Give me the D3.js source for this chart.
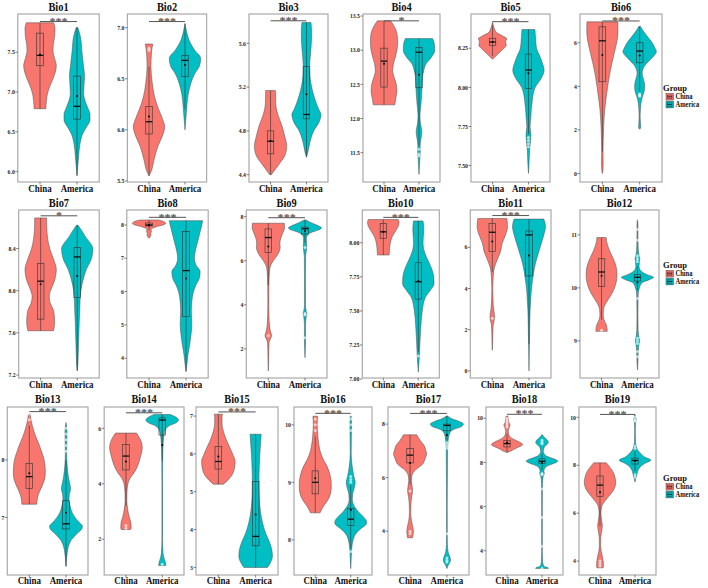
<!DOCTYPE html>
<html><head><meta charset="utf-8">
<script src="https://cdn.jsdelivr.net/npm/d3@7"></script>
<style>body{margin:0;background:#fff}</style>
</head><body><svg id="c" width="708" height="588"></svg>
<script>
const groups = ["China","America"];
const groupColors = ["#F8766D","#00BFC4"];
const panelNames = ["Bio1","Bio2","Bio3","Bio4","Bio5","Bio6","Bio7","Bio8","Bio9","Bio10","Bio11","Bio12","Bio13","Bio14","Bio15","Bio16","Bio17","Bio18","Bio19"];

// y-axis extents and tick labels per panel
const yDomains = [[5.87,7.98],[5.49,7.134],[4.333,5.868],[11.07,13.53],[7.395,8.469],[-0.39,7.32],
 [7.172,8.765],[3.405,8.45],[0.68,8.3],[7.008,8.24],[-0.345,7.81],[8.3,11.47],
 [6.0,8.92],[0.71,6.77],[2.8,7.24],[7.39,10.31],[2.36,8.64],[2.9,10.51],[3.42,10.43]];
const tickLabels = [["6.0","6.5","7.0","7.5"],["5.5","6.0","6.5","7.0"],["4.4","4.8","5.2","5.6"],["11.5","12.0","12.5","13.0","13.5"],["7.50","7.75","8.00","8.25"],["0","2","4","6"],
 ["7.2","7.6","8.0","8.4"],["4","5","6","7","8"],["2","4","6","8"],["7.00","7.25","7.50","7.75","8.00"],["0","2","4","6"],["9","10","11"],
 ["7","8"],["2","4","6"],["3","4","5","6","7"],["8","9","10"],["4","6","8"],["4","6","8","10"],["4","6","8","10"]];
// significance bracket: [height, label]
const significance = [[7.885,"***"],[7.06,"***"],[5.806,"***"],[13.43,"*"],[8.42,"***"],[7.0,"***"],
 [8.71,"*"],[8.23,"***"],[7.95,"***"],[8.186,"***"],[7.54,"***"],null,
 [8.84,"***"],[6.56,"***"],[7.11,"***"],[10.2,"***"],[8.4,"***"],[10.18,"***"],[10.12,"***"]];

// violin profiles: [value, relative half width]
const violinChina = [
 [[7.87,0.82],[7.8,0.9],[7.7,0.88],[7.6,0.8],[7.52,0.78],[7.42,0.88],[7.33,0.98],[7.25,0.92],[7.15,0.75],[7.05,0.55],[6.95,0.42],[6.85,0.37],[6.79,0.35]],
 [[6.84,0.23],[6.75,0.15],[6.62,0.12],[6.46,0.2],[6.32,0.35],[6.2,0.6],[6.1,0.85],[6.03,0.97],[5.95,0.85],[5.84,0.55],[5.7,0.3],[5.6,0.15],[5.55,0]],
 [[5.17,0.3],[5.05,0.32],[4.95,0.45],[4.85,0.7],[4.75,0.88],[4.66,1.0],[4.58,0.9],[4.5,0.55],[4.45,0.3],[4.4,0.05]],
 [[13.43,0.42],[13.3,0.75],[13.2,0.85],[13.1,0.86],[13.0,0.82],[12.9,0.72],[12.8,0.6],[12.7,0.55],[12.6,0.65],[12.5,0.78],[12.4,0.82],[12.3,0.75],[12.2,0.68]],
 [[8.42,0],[8.38,0.1],[8.35,0.25],[8.33,0.6],[8.31,0.88],[8.29,0.8],[8.27,0.85],[8.25,0.7],[8.23,0.5],[8.21,0.3],[8.19,0.1],[8.18,0]],
 [[6.96,0.92],[6.5,0.93],[6.0,0.85],[5.5,0.7],[5.0,0.55],[4.5,0.42],[4.0,0.32],[3.5,0.23],[3.0,0.15],[2.5,0.1],[2.0,0.07],[1.5,0.05],[1.0,0.04],[0.5,0.05],[0.1,0.03],[0,0]],
 [[8.69,0.36],[8.6,0.37],[8.5,0.42],[8.4,0.55],[8.3,0.78],[8.2,0.95],[8.1,0.85],[8.0,0.6],[7.95,0.52],[7.9,0.55],[7.8,0.8],[7.7,0.85],[7.62,0.78]],
 [[8.15,0.55],[8.1,0.9],[8.05,1.0],[8.0,0.85],[7.95,0.45],[7.9,0.2],[7.85,0.12],[7.8,0.15],[7.75,0.1],[7.7,0.12],[7.65,0.08],[7.6,0]],
 [[7.7,0.97],[7.5,0.98],[7.3,0.9],[7.0,0.75],[6.8,0.7],[6.6,0.72],[6.4,0.65],[6.2,0.5],[6.0,0.3],[5.8,0.15],[5.5,0.07],[5.0,0.04],[4.5,0.03],[4.0,0.03],[3.5,0.04],[3.0,0.08],[2.75,0.15],[2.6,0.2],[2.45,0.12],[2.3,0.05],[2.0,0.03],[1.5,0.02],[1.0,0]],
 [[8.17,0.95],[8.15,1.0],[8.12,0.95],[8.08,0.75],[8.04,0.55],[8.0,0.45],[7.96,0.4],[7.91,0.37]],
 [[7.4,0.88],[7.0,0.92],[6.6,0.8],[6.2,0.6],[5.8,0.5],[5.4,0.3],[5.0,0.12],[4.6,0.06],[4.0,0.03],[3.5,0.04],[3.0,0.08],[2.8,0.12],[2.6,0.14],[2.4,0.1],[2.2,0.05],[1.8,0.03],[1.4,0.02],[1.0,0]],
 [[10.95,0.29],[10.9,0.3],[10.8,0.38],[10.7,0.5],[10.6,0.65],[10.5,0.8],[10.4,0.9],[10.3,0.95],[10.2,0.95],[10.1,0.9],[10.0,0.8],[9.9,0.65],[9.8,0.45],[9.7,0.25],[9.6,0.12],[9.5,0.1],[9.4,0.15],[9.3,0.3],[9.2,0.35],[9.18,0.35]],
 [[8.8,0.05],[8.7,0.1],[8.6,0.18],[8.5,0.28],[8.4,0.4],[8.3,0.55],[8.2,0.68],[8.1,0.8],[8.0,0.9],[7.9,0.95],[7.8,0.97],[7.7,0.95],[7.6,0.85],[7.5,0.7],[7.4,0.55],[7.3,0.47],[7.23,0.45]],
 [[5.83,0.64],[5.6,0.88],[5.3,1.0],[5.0,0.9],[4.7,0.75],[4.4,0.5],[4.2,0.25],[4.0,0.12],[3.7,0.06],[3.4,0.05],[3.1,0.1],[2.8,0.2],[2.6,0.3],[2.4,0.32],[2.35,0.28]],
 [[7.05,0.25],[7.0,0.22],[6.8,0.22],[6.6,0.3],[6.4,0.45],[6.2,0.65],[6.0,0.85],[5.8,1.0],[5.6,0.95],[5.4,0.75],[5.3,0.55],[5.2,0.3]],
 [[10.15,0.15],[10.0,0.12],[9.85,0.15],[9.7,0.2],[9.55,0.3],[9.4,0.5],[9.3,0.7],[9.2,0.85],[9.1,0.95],[9.0,1.0],[8.9,1.0],[8.8,0.95],[8.7,0.8],[8.6,0.55],[8.5,0.35],[8.47,0.3]],
 [[7.6,0.4],[7.4,0.6],[7.2,0.85],[7.0,0.95],[6.9,1.0],[6.7,0.9],[6.5,0.75],[6.3,0.35],[6.1,0.12],[5.9,0.08],[5.7,0.12],[5.5,0.15],[5.3,0.1],[5.0,0.05],[4.7,0.04],[4.4,0.08],[4.2,0.15],[4.0,0.2],[3.85,0.18],[3.75,0.15]],
 [[10.1,0.05],[10.0,0.08],[9.8,0.12],[9.7,0.2],[9.6,0.15],[9.4,0.08],[9.2,0.15],[9.1,0.3],[9.0,0.55],[8.9,0.85],[8.8,1.0],[8.7,0.75],[8.6,0.45],[8.5,0.2],[8.45,0]],
 [[8.1,0.4],[7.9,0.65],[7.7,0.85],[7.5,0.95],[7.3,1.0],[7.1,0.95],[6.9,0.8],[6.7,0.55],[6.5,0.3],[6.3,0.12],[6.0,0.06],[5.7,0.1],[5.5,0.15],[5.3,0.12],[5.0,0.05],[4.7,0.04],[4.4,0.08],[4.2,0.15],[4.0,0.2],[3.8,0.22],[3.72,0.2]]
];
const violinAmerica = [
 [[7.81,0.05],[7.7,0.2],[7.5,0.3],[7.35,0.38],[7.2,0.45],[7.08,0.42],[6.98,0.4],[6.88,0.5],[6.8,0.65],[6.72,0.78],[6.65,0.78],[6.57,0.6],[6.48,0.35],[6.35,0.18],[6.2,0.1],[6.05,0.04],[5.95,0]],
 [[7.04,0],[6.96,0.1],[6.86,0.3],[6.78,0.6],[6.7,0.97],[6.62,0.88],[6.55,0.6],[6.45,0.35],[6.35,0.2],[6.2,0.1],[6.1,0.05],[6.0,0]],
 [[5.79,0.28],[5.7,0.32],[5.6,0.3],[5.5,0.25],[5.4,0.2],[5.3,0.22],[5.2,0.32],[5.1,0.5],[5.0,0.75],[4.95,0.9],[4.88,0.78],[4.8,0.45],[4.7,0.22],[4.6,0.08],[4.56,0]],
 [[13.17,0.86],[13.1,0.97],[13.0,1.0],[12.9,0.8],[12.8,0.45],[12.7,0.3],[12.6,0.22],[12.5,0.2],[12.35,0.17],[12.2,0.12],[12.05,0.06],[11.95,0.08],[11.8,0.18],[11.7,0.12],[11.6,0.07],[11.5,0.08],[11.4,0.05],[11.3,0.03],[11.18,0]],
 [[8.37,0.4],[8.3,0.45],[8.25,0.5],[8.2,0.7],[8.15,0.88],[8.11,0.97],[8.06,0.8],[8.0,0.42],[7.95,0.28],[7.9,0.22],[7.85,0.17],[7.8,0.14],[7.75,0.1],[7.7,0.15],[7.65,0.12],[7.6,0.07],[7.55,0.05],[7.5,0.03],[7.45,0]],
 [[6.75,0.05],[6.5,0.25],[6.25,0.5],[6.0,0.75],[5.75,0.92],[5.6,1.0],[5.4,0.85],[5.2,0.6],[5.0,0.35],[4.8,0.2],[4.6,0.15],[4.4,0.2],[4.2,0.27],[4.0,0.3],[3.8,0.28],[3.6,0.2],[3.4,0.12],[3.0,0.05],[2.6,0.03],[2.3,0.05],[2.1,0.06],[2.03,0]],
 [[8.62,0.05],[8.55,0.35],[8.5,0.55],[8.45,0.8],[8.4,0.95],[8.3,0.85],[8.2,0.55],[8.1,0.35],[8.0,0.22],[7.9,0.17],[7.8,0.15],[7.7,0.12],[7.6,0.1],[7.5,0.08],[7.4,0.06],[7.3,0.04],[7.24,0]],
 [[8.13,1.0],[8.0,0.95],[7.8,0.85],[7.5,0.7],[7.2,0.55],[7.0,0.5],[6.8,0.6],[6.6,0.85],[6.4,0.8],[6.2,0.6],[6.0,0.45],[5.7,0.35],[5.4,0.32],[5.0,0.35],[4.7,0.3],[4.4,0.22],[4.1,0.12],[3.8,0.05],[3.6,0]],
 [[7.85,0.05],[7.75,0.3],[7.65,0.6],[7.55,0.9],[7.5,1.0],[7.4,0.85],[7.3,0.45],[7.2,0.2],[7.0,0.08],[6.6,0.1],[6.2,0.04],[5.0,0.03],[4.0,0.03],[3.7,0.08],[3.6,0.12],[3.5,0.08],[3.0,0.03],[2.5,0.04],[2.0,0.02],[1.6,0]],
 [[8.16,0.3],[8.1,0.35],[8.0,0.3],[7.95,0.35],[7.9,0.5],[7.85,0.7],[7.8,0.88],[7.75,0.98],[7.7,1.0],[7.65,0.75],[7.6,0.45],[7.5,0.25],[7.4,0.17],[7.3,0.12],[7.2,0.08],[7.15,0.06],[7.1,0.03],[7.05,0]],
 [[7.37,0.9],[7.0,1.0],[6.6,0.9],[6.2,0.75],[5.8,0.6],[5.4,0.45],[5.0,0.33],[4.6,0.25],[4.2,0.18],[3.8,0.13],[3.4,0.1],[3.0,0.07],[2.5,0.05],[2.0,0.04],[1.5,0.03],[1.0,0.02],[0.5,0.01],[0,0]],
 [[11.3,0],[11.2,0.03],[11.0,0.03],[10.8,0.04],[10.6,0.1],[10.55,0.15],[10.5,0.12],[10.4,0.1],[10.3,0.3],[10.25,0.6],[10.2,1.0],[10.15,0.7],[10.1,0.3],[10.0,0.12],[9.9,0.05],[9.8,0.04],[9.5,0.03],[9.2,0.04],[9.05,0.1],[9.0,0.13],[8.95,0.1],[8.8,0.05],[8.6,0.03],[8.45,0]],
 [[8.65,0],[8.5,0.06],[8.3,0.05],[8.1,0.04],[7.9,0.07],[7.7,0.15],[7.6,0.22],[7.5,0.28],[7.4,0.2],[7.3,0.18],[7.2,0.25],[7.1,0.35],[7.0,0.55],[6.9,0.85],[6.85,1.0],[6.8,0.95],[6.7,0.6],[6.6,0.3],[6.5,0.15],[6.4,0.08],[6.3,0.04],[6.15,0]],
 [[6.5,0.5],[6.4,0.85],[6.3,1.0],[6.2,0.85],[6.1,0.45],[6.0,0.25],[5.8,0.12],[5.5,0.06],[5.0,0.03],[4.0,0.02],[3.0,0.02],[2.0,0.02],[1.5,0.05],[1.3,0.12],[1.15,0.2],[1.05,0.22]],
 [[6.52,0.33],[6.3,0.3],[6.0,0.25],[5.7,0.22],[5.4,0.2],[5.1,0.2],[4.8,0.22],[4.5,0.28],[4.2,0.4],[3.9,0.6],[3.7,0.8],[3.5,0.95],[3.3,1.0],[3.1,0.85],[3.0,0.7]],
 [[10.15,0.03],[10.0,0.05],[9.8,0.04],[9.5,0.03],[9.3,0.08],[9.1,0.2],[9.0,0.28],[8.9,0.22],[8.8,0.12],[8.7,0.1],[8.6,0.2],[8.5,0.45],[8.4,0.8],[8.35,0.95],[8.3,1.0],[8.25,0.9],[8.2,0.65],[8.1,0.3],[8.0,0.15],[7.9,0.08],[7.8,0.05],[7.6,0.02],[7.5,0]],
 [[8.3,0.05],[8.2,0.3],[8.1,0.75],[8.0,1.0],[7.9,0.85],[7.8,0.4],[7.7,0.2],[7.5,0.1],[7.2,0.05],[7.0,0.04],[6.0,0.03],[5.0,0.02],[4.0,0.02],[3.5,0.03],[3.2,0.08],[3.0,0.2],[2.9,0.22],[2.8,0.15],[2.7,0.06],[2.6,0]],
 [[9.25,0.02],[9.1,0.2],[9.0,0.35],[8.9,0.4],[8.8,0.3],[8.7,0.15],[8.5,0.08],[8.3,0.25],[8.2,0.6],[8.1,0.95],[8.05,1.0],[8.0,0.9],[7.9,0.55],[7.8,0.25],[7.6,0.12],[7.5,0.15],[7.4,0.08],[7.0,0.03],[6.0,0.02],[5.0,0.02],[4.0,0.02],[3.5,0.04],[3.3,0.12],[3.22,0.4],[3.2,0.4]],
 [[10.1,0.02],[10.0,0.05],[9.9,0.08],[9.8,0.04],[9.5,0.02],[9.0,0.03],[8.8,0.08],[8.6,0.2],[8.5,0.35],[8.4,0.5],[8.3,0.75],[8.25,0.95],[8.2,1.0],[8.1,0.7],[8.0,0.45],[7.9,0.3],[7.8,0.2],[7.6,0.12],[7.5,0.08],[7.4,0.04],[7.3,0]]
];
// box stats: [whiskerLow, q1, median, q3, whiskerHigh, mean]
const boxChina = [[6.79,7.33,7.46,7.74,7.87,7.47],[5.55,5.96,6.08,6.23,6.62,6.13],[4.4,4.59,4.705,4.8,5.17,4.71],[12.2,12.46,12.84,13.03,13.43,12.8],[8.2,8.267,8.29,8.314,8.4,8.29],[1.0,4.21,6.09,6.73,6.96,5.44],
 [7.62,7.73,8.09,8.26,8.69,8.06],[7.85,7.97,8.0,8.06,8.15,7.99],[4.9,6.38,7.05,7.44,7.7,6.64],[7.91,8.03,8.08,8.14,8.17,8.08],[4.8,5.79,6.73,7.165,7.4,6.28],[9.4,10.03,10.3,10.55,10.95,10.23],
 [7.23,7.5,7.71,7.94,8.6,7.77],[3.2,4.5,5.0,5.42,5.83,4.8],[5.2,5.6,5.8,6.2,7.05,5.93],[8.47,8.8,9.0,9.2,9.8,9.07],[5.73,6.55,6.84,7.09,7.6,6.55],[8.45,8.7,8.85,9.0,9.3,8.9],[5.45,6.69,7.17,7.55,8.1,6.87]];
const boxAmerica = [[5.95,6.66,6.82,7.2,7.81,6.95],[6.2,6.52,6.68,6.73,7.04,6.635],[4.56,4.91,4.95,5.39,5.79,5.134],[11.6,12.45,12.97,13.04,13.17,12.64],[7.7,7.994,8.111,8.213,8.37,8.09],[3.75,5.08,5.62,6.0,6.75,5.42],
 [7.24,7.935,8.32,8.41,8.62,8.14],[3.6,5.25,6.63,7.8,8.13,6.39],[6.8,7.21,7.45,7.52,7.85,7.35],[7.2,7.587,7.714,7.853,8.16,7.72],[1.3,4.61,6.6,6.79,7.37,5.6],[9.95,10.13,10.2,10.25,10.4,10.1],
 [6.15,6.8,6.89,7.29,8.0,7.08],[4.83,5.76,6.3,6.38,6.5,5.4],[3.0,3.57,3.82,5.27,6.52,4.4],[7.85,8.25,8.36,8.55,8.95,8.52],[7.4,7.75,7.95,8.0,8.3,7.59],[7.65,7.95,8.05,8.16,8.4,8.0],[7.75,8.05,8.2,8.3,8.6,8.18]];
const outliersChina = [[],[6.78,6.8],[],[],[],[],[],[],[2.6],[],[2.55],[9.2],[8.7,8.8],[2.5,2.4],[],[9.9,10.0,10.1],[5.5,4.0,3.9],[9.6,9.7,9.8,9.9,10.0],[4.0,3.9,3.8]];
const outliersAmerica = [[],[],[],[11.55,11.48,11.45],[7.68,7.66,7.64,7.62],[3.65,3.6,3.55],[],[],[6.6,3.6,3.55,2.5],[7.17],[],[11.3,11.1,10.9,10.6,10.55,10.5,9.8,9.05,9.0,8.95,8.8,8.7],
 [8.15,8.25,8.35,8.45,8.55],[1.1],[],[9.0,9.05,9.1,9.9,10.0,10.1,7.8],[7.3,7.2,7.1,3.9,3.0,2.9,2.85],[8.9,8.85,9.0,7.5,7.45,6.8,5.5,4.2,3.2],[10.0,9.9,9.85,8.8,8.7,7.6,7.5]];

// ---- layout (pixels) ----
const panelLayout = [[17.8,99.2,0],[127.4,206.6,0],[249,328,0],[363,440,0],[471,550,0],[580,662,0],
 [18.7,99.2,1],[126.8,208.2,1],[246.3,327,1],[362.3,439.3,1],[470.3,551,1],[580,659,1],
 [7.3,88,2],[104.2,184,2],[196,278,2],[294,372,2],[388,469,2],[486,563,2],[579,656,2]];
const rowLayout = [{top:14,bottom:182,title:11,xlab:191.5,leg:90.5},
 {top:210,bottom:378,title:207,xlab:388,leg:267.5},
 {top:407,bottom:575,title:403,xlab:583.5,leg:480.5}];
const FONT = "'Liberation Serif','Times New Roman',serif";

const svg = d3.select("#c");
function txt(g, s, x, y, size, sx, anchor, fill){
  return g.append("text").text(s)
    .attr("transform", `translate(${x},${y}) scale(${sx},1)`)
    .attr("font-family", FONT).attr("font-weight","bold")
    .attr("font-size", size).attr("text-anchor", anchor||"middle")
    .attr("fill", fill||"#111");
}

panelNames.forEach((name,i)=>{
  const [x0,x1,row] = panelLayout[i];
  const R = rowLayout[row];
  const x = d3.scalePoint().domain(groups).range([x0,x1]).padding(0.6);
  const y = d3.scaleLinear().domain(yDomains[i]).range([R.bottom,R.top]);
  const hw = 0.45*x.step();
  const bw = 0.09*x.step();
  const g = svg.append("g");
  g.append("rect").attr("x",x0).attr("y",R.top).attr("width",x1-x0).attr("height",R.bottom-R.top).attr("fill","#fff");
  const profiles = [violinChina[i], violinAmerica[i]];
  const boxes = [boxChina[i], boxAmerica[i]];
  const outs = [outliersChina[i], outliersAmerica[i]];
  groups.forEach((gr,gi)=>{
    const cx = x(gr);
    const area = d3.area().curve(d3.curveMonotoneY)
      .y(d=>y(d[0])).x0(d=>cx-d[1]*hw).x1(d=>cx+d[1]*hw);
    g.append("path").attr("d",area(profiles[gi])).attr("fill",groupColors[gi])
      .attr("stroke","#4a4a4a").attr("stroke-width",0.5);
    const [lo,q1,med,q3,hi,mean] = boxes[gi];
    g.append("line").attr("x1",cx).attr("x2",cx).attr("y1",y(lo)).attr("y2",y(hi))
      .attr("stroke","#333").attr("stroke-width",0.6);
    g.append("rect").attr("x",cx-bw).attr("width",2*bw).attr("y",y(q3)).attr("height",y(q1)-y(q3))
      .attr("fill","none").attr("stroke","#333").attr("stroke-width",0.6);
    g.append("line").attr("x1",cx-bw).attr("x2",cx+bw).attr("y1",y(med)).attr("y2",y(med))
      .attr("stroke","#111").attr("stroke-width",1.3);
    g.selectAll(null).data(outs[gi]).enter().append("circle")
      .attr("cx",cx).attr("cy",d=>y(d)).attr("r",1.5)
      .attr("fill","#fff").attr("fill-opacity",0.65);
    g.append("circle").attr("cx",cx).attr("cy",y(mean)).attr("r",1).attr("fill","#000");
  });
  // significance bracket
  const sig = significance[i];
  if (sig){
    const sy = y(sig[0]);
    g.append("line").attr("x1",x(groups[0])).attr("x2",x(groups[1])).attr("y1",sy).attr("y2",sy)
      .attr("stroke","#555").attr("stroke-width",1);
    txt(g, sig[1], (x(groups[0])+x(groups[1]))/2, sy+3.2, 11, 1.1, "middle", "#555");
  }
  // frame
  g.append("rect").attr("x",x0).attr("y",R.top).attr("width",x1-x0).attr("height",R.bottom-R.top)
    .attr("fill","none").attr("stroke","#aaa").attr("stroke-width",1.2);
  // y axis
  tickLabels[i].forEach(t=>{
    const ty = y(+t);
    g.append("line").attr("x1",x0-2.5).attr("x2",x0).attr("y1",ty).attr("y2",ty).attr("stroke","#333").attr("stroke-width",0.6);
    txt(g, t, x0-3, ty+2.2, 6.8, 0.85, "end", "#222");
  });
  // x axis
  groups.forEach(gr=>{
    g.append("line").attr("x1",x(gr)).attr("x2",x(gr)).attr("y1",R.bottom).attr("y2",R.bottom+2.5).attr("stroke","#333").attr("stroke-width",0.6);
    txt(g, gr, x(gr), R.xlab, 10.5, 0.85, "middle", "#111");
  });
  // title
  txt(g, name, (x0+x1)/2, R.title, 13, 0.8, "middle", "#111");
});

// legends
rowLayout.forEach(R=>{
  const lg = svg.append("g");
  txt(lg, "Group", 663, R.leg, 9, 0.95, "start", "#111");
  groups.forEach((gr,gi)=>{
    const ky = R.leg + 3 + gi*7.8;
    lg.append("rect").attr("x",666).attr("y",ky).attr("width",7.5).attr("height",6.6)
      .attr("fill",groupColors[gi]).attr("stroke","#444").attr("stroke-width",0.5);
    lg.append("rect").attr("x",667.5).attr("y",ky+1.6).attr("width",4.5).attr("height",3.4)
      .attr("fill","none").attr("stroke","#333").attr("stroke-width",0.5);
    lg.append("line").attr("x1",667.5).attr("x2",672).attr("y1",ky+3.3).attr("y2",ky+3.3)
      .attr("stroke","#111").attr("stroke-width",0.8);
    txt(lg, gr, 675.5, ky+5.6, 7.6, 0.85, "start", "#111");
  });
});
</script></body></html>
